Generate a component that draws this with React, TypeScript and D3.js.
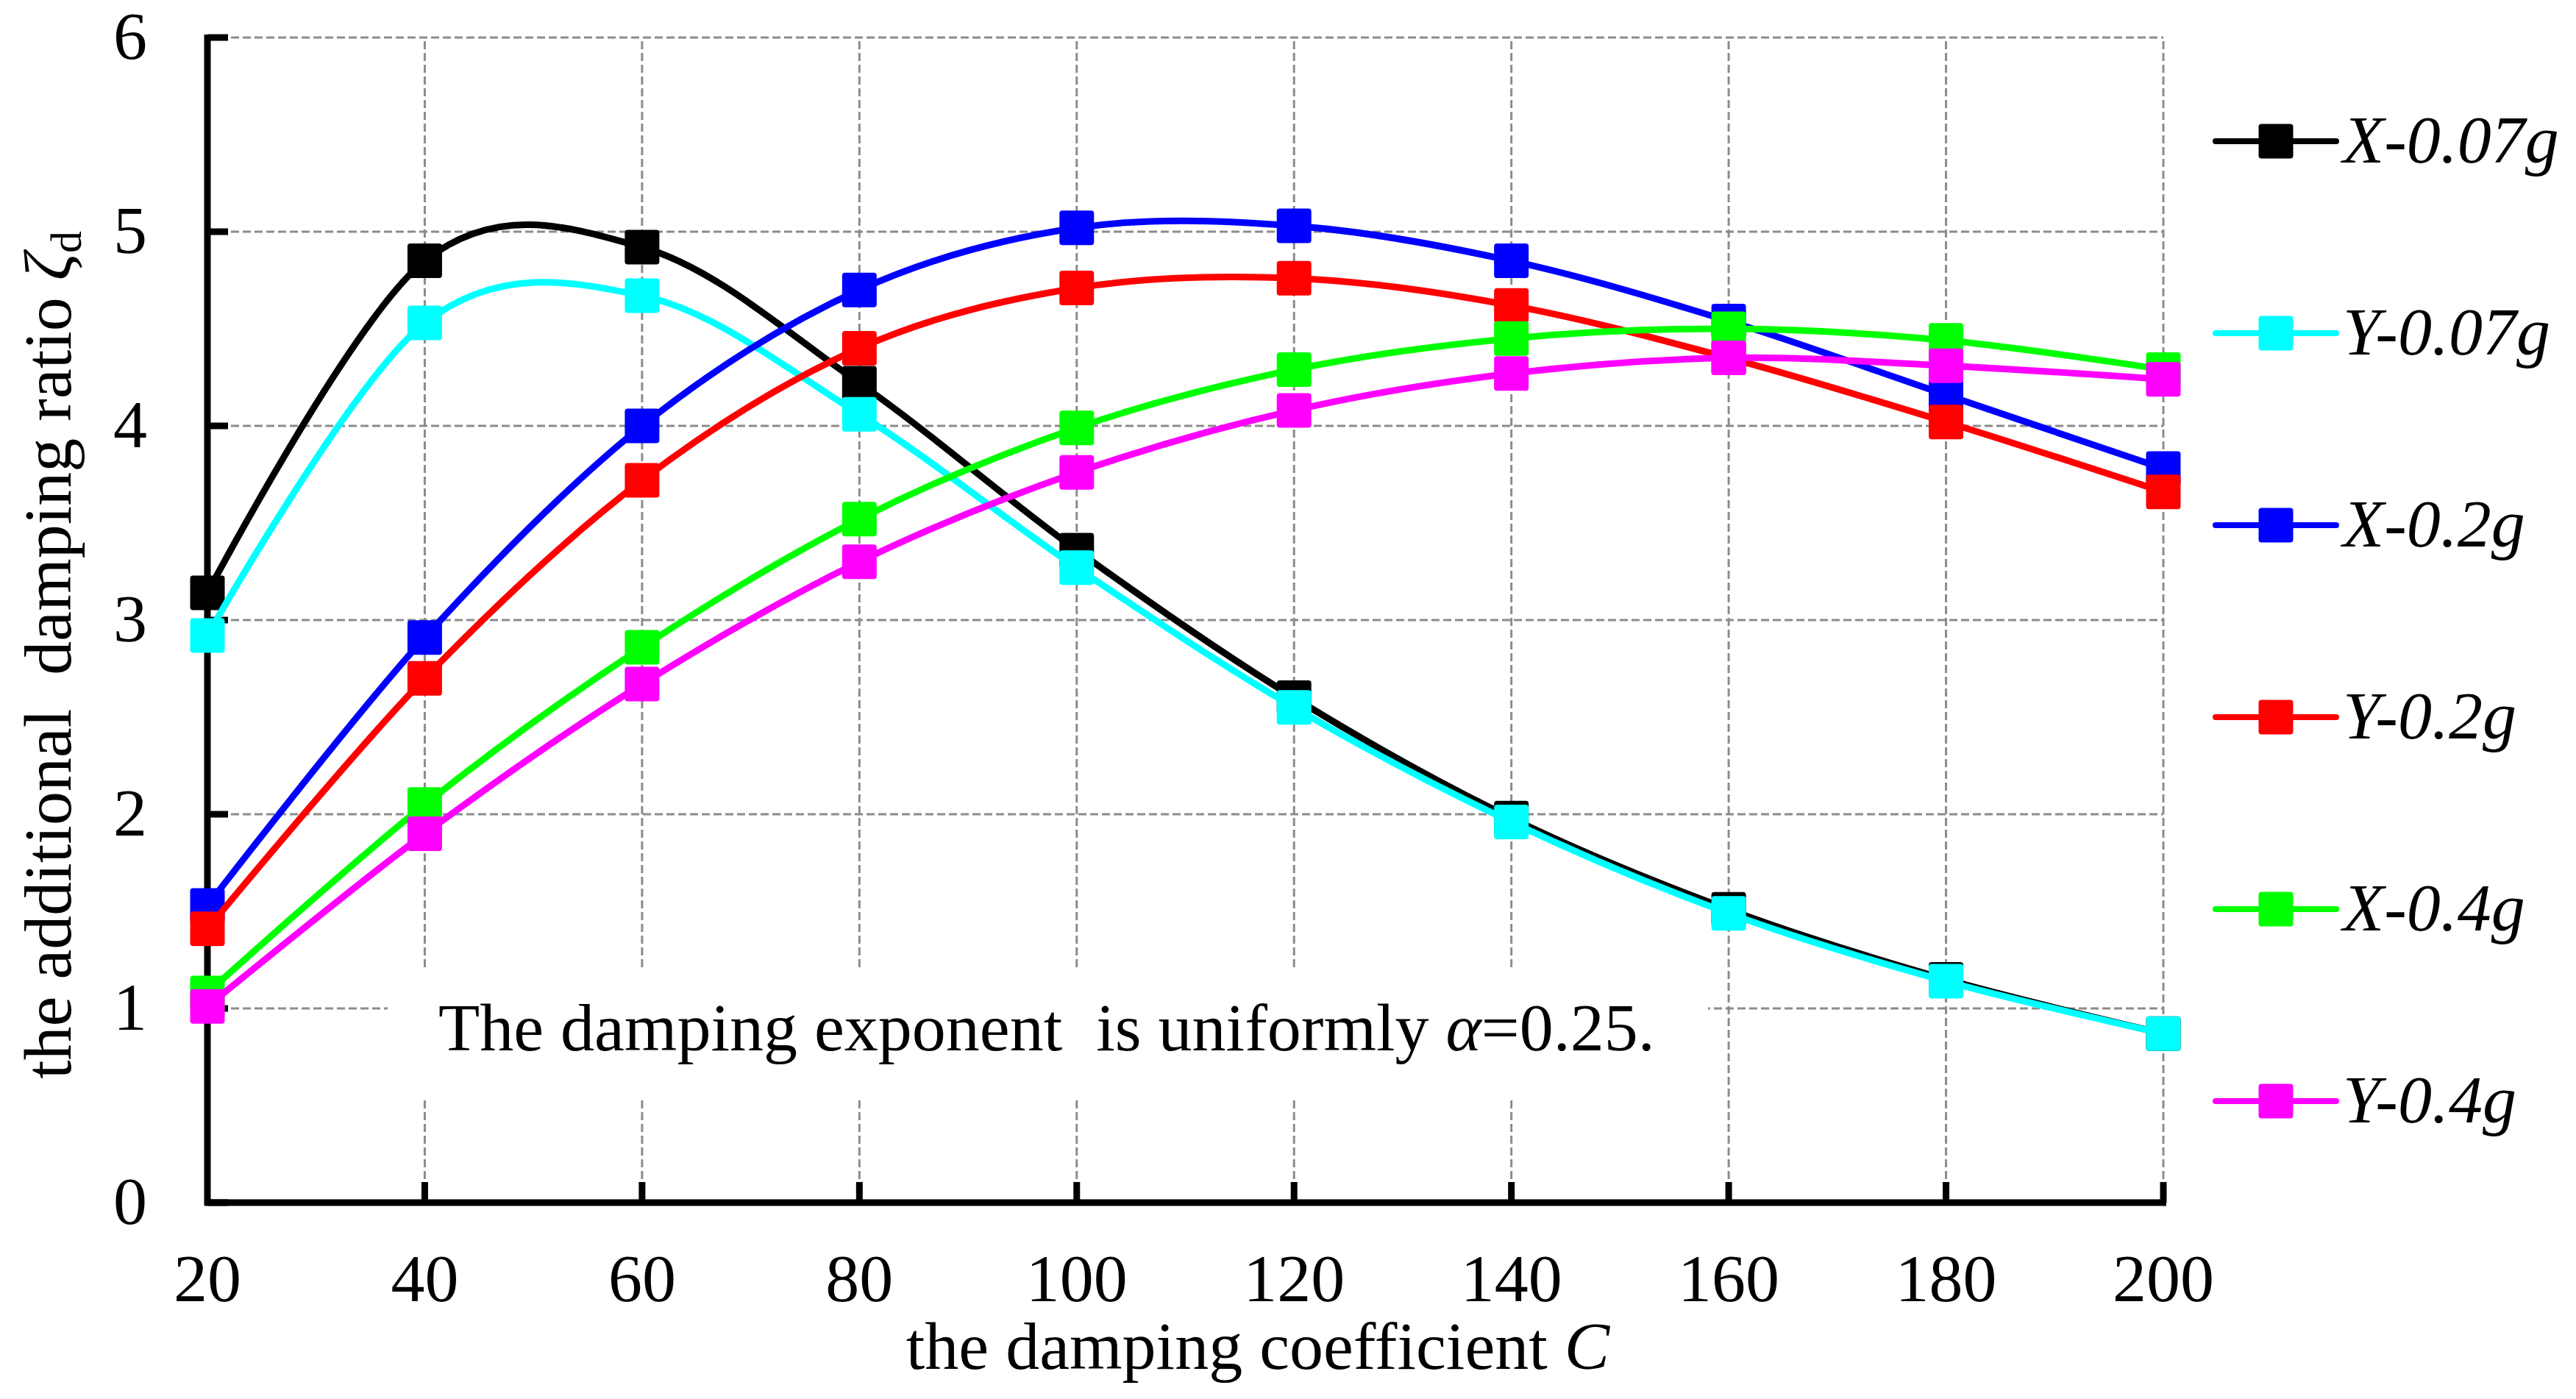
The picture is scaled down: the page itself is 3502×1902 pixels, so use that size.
import React from "react";
import * as d3 from "d3";

const xValues = [20, 40, 60, 80, 100, 120, 140, 160, 180, 200];
const seriesNames = ["X-0.07g", "Y-0.07g", "X-0.2g", "Y-0.2g", "X-0.4g", "Y-0.4g"];
const seriesColors = ["#000000", "#00ffff", "#0000ff", "#ff0000", "#00ff00", "#ff00ff"];
const x007 = [3.14, 4.85, 4.92, 4.22, 3.36, 2.6, 1.98, 1.51, 1.15, 0.87];
const y007 = [2.92, 4.53, 4.67, 4.06, 3.27, 2.55, 1.96, 1.49, 1.14, 0.87];
const x02 = [1.53, 2.91, 4.0, 4.7, 5.02, 5.03, 4.85, 4.54, 4.16, 3.78];
const y02 = [1.41, 2.7, 3.72, 4.4, 4.71, 4.76, 4.62, 4.35, 4.02, 3.66];
const x04 = [1.08, 2.05, 2.86, 3.52, 3.99, 4.29, 4.45, 4.5, 4.44, 4.29];
const y04 = [1.01, 1.9, 2.67, 3.3, 3.76, 4.08, 4.27, 4.35, 4.31, 4.24];
const seriesValues = [x007, y007, x02, y02, x04, y04];
const xTicks = [20, 40, 60, 80, 100, 120, 140, 160, 180, 200];
const yTicks = [0, 1, 2, 3, 4, 5, 6];

const W = 3502;
const H = 1902;
const FONT = "'Liberation Serif', 'Times New Roman', serif";

export default function App() {
  const x = d3.scaleLinear().domain([20, 200]).range([282, 2941]);
  const y = d3.scaleLinear().domain([0, 6]).range([1635, 51]);
  const line = d3
    .line<number>()
    .x((_, i) => x(xValues[i]))
    .y((d) => y(d))
    .curve(d3.curveCardinal.tension(0));

  const M = 47;
  const legendY0 = 192;
  const legendStep = 261;

  return (
    <svg
      width={W}
      height={H}
      style={{ position: "absolute", left: 0, top: 0, background: "#fff" }}
      fontFamily={FONT}
    >
      <rect x={0} y={0} width={W} height={H} fill="#fff" />
      {/* grid */}
      <g stroke="#8c8c8c" strokeWidth={3} strokeDasharray="11 5" fill="none">
        {yTicks.filter((t) => t > 0).map((t) => (
          <line key={"gy" + t} x1={x(20)} x2={x(200)} y1={y(t)} y2={y(t)} />
        ))}
        {xTicks.filter((t) => t > 20).map((t) => (
          <line key={"gx" + t} x1={x(t)} x2={x(t)} y1={y(0)} y2={y(6)} />
        ))}
      </g>
      {/* annotation box */}
      <rect x={527} y={1320} width={1795} height={172} fill="#fff" />
      <text
        x={596}
        y={1428}
        fontSize={92}
        fill="#000"
        style={{ whiteSpace: "pre" }}
      >
        {"The damping exponent  is uniformly "}
        <tspan fontStyle="italic">α</tspan>
        {"=0.25."}
      </text>
      {/* axes */}
      <g stroke="#000" strokeWidth={9} fill="none">
        <line x1={x(20)} x2={x(20)} y1={y(6) - 4} y2={y(0) + 4} />
        <line x1={x(20) - 4} x2={x(200) + 4} y1={y(0)} y2={y(0)} />
        {yTicks.map((t) => (
          <line key={"ty" + t} x1={x(20)} x2={x(20) + 28} y1={y(t)} y2={y(t)} />
        ))}
        {xTicks.filter((t) => t > 20).map((t) => (
          <line key={"tx" + t} x1={x(t)} x2={x(t)} y1={y(0)} y2={y(0) - 28} />
        ))}
      </g>
      {/* tick labels */}
      <g fontSize={92} fill="#000">
        {yTicks.map((t) => (
          <text key={"ly" + t} x={200} y={y(t) + 29} textAnchor="end">
            {t}
          </text>
        ))}
        {xTicks.map((t) => (
          <text key={"lx" + t} x={x(t)} y={1769} textAnchor="middle">
            {t}
          </text>
        ))}
      </g>
      {/* axis titles */}
      <text x={1710} y={1861} fontSize={92} textAnchor="middle" fill="#000">
        {"the damping coefficient "}
        <tspan fontStyle="italic">C</tspan>
      </text>
      <text
        transform="translate(96,1467) rotate(-90)"
        fontSize={92}
        textAnchor="start"
        fill="#000"
        style={{ whiteSpace: "pre" }}
      >
        {"the additional  damping ratio "}
        <tspan fontStyle="italic">ζ</tspan>
        <tspan fontSize={60} dy={14}>d</tspan>
      </text>
      {/* series */}
      {seriesValues.map((vals, si) => (
        <g key={"s" + si}>
          <path
            d={line(vals) || ""}
            fill="none"
            stroke={seriesColors[si]}
            strokeWidth={9}
            strokeLinejoin="round"
          />
          {vals.map((v, i) => (
            <rect
              key={i}
              x={x(xValues[i]) - M / 2}
              y={y(v) - M / 2}
              width={M}
              height={M}
              rx={4}
              fill={seriesColors[si]}
            />
          ))}
        </g>
      ))}
      {/* legend */}
      {seriesNames.map((name, si) => {
        const ly = legendY0 + si * legendStep;
        return (
          <g key={"lg" + si}>
            <line
              x1={3012}
              x2={3176}
              y1={ly}
              y2={ly}
              stroke={seriesColors[si]}
              strokeWidth={8}
              strokeLinecap="round"
            />
            <rect x={3094 - M / 2} y={ly - M / 2} width={M} height={M} rx={4} fill={seriesColors[si]} />
            <text x={3185} y={ly + 29} fontSize={92} fontStyle="italic" fill="#000">
              {name}
            </text>
          </g>
        );
      })}
    </svg>
  );
}
